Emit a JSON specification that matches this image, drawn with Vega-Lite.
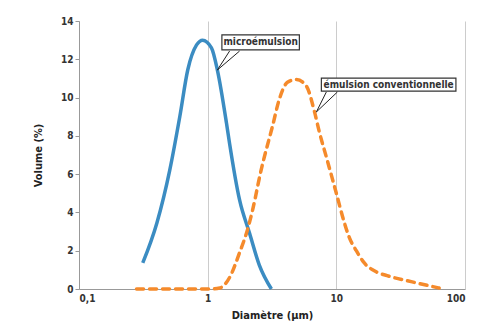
{
  "$schema": "https://vega.github.io/schema/vega-lite/v6.json",
  "width": 386,
  "height": 268,
  "autosize": {"type": "none"},
  "padding": {"left": 79, "top": 21, "right": 19, "bottom": 42},
  "background": "white",
  "config": {
    "view": {"stroke": null},
    "font": "DejaVu Sans Condensed",
    "axis": {"labelFont": "DejaVu Sans Condensed", "titleFont": "DejaVu Sans Condensed", "labelFontWeight": "bold", "titleFontWeight": "bold", "labelColor": "#333", "titleColor": "#222", "labelFontSize": 10, "titleFontSize": 11, "domainColor": "#999", "tickColor": "#999", "tickSize": 4, "labelOverlap": false}
  },
  "datasets": {
    "blue": [
      {"d": 0.313, "v": 1.36}, {"d": 0.403, "v": 3.45}, {"d": 0.507, "v": 6.2}, {"d": 0.607, "v": 9.0},
      {"d": 0.70, "v": 11.44}, {"d": 0.82, "v": 12.75}, {"d": 0.914, "v": 13.0}, {"d": 1.07, "v": 12.6},
      {"d": 1.19, "v": 11.44}, {"d": 1.40, "v": 8.67}, {"d": 1.48, "v": 7.6}, {"d": 1.77, "v": 4.65}, {"d": 2.12, "v": 2.9},
      {"d": 2.52, "v": 1.25}, {"d": 3.13, "v": 0}
    ],
    "orange": [
      {"d": 0.28, "v": 0}, {"d": 0.5, "v": 0}, {"d": 0.8, "v": 0}, {"d": 1.05, "v": 0},
      {"d": 1.24, "v": 0.05}, {"d": 1.48, "v": 0.6}, {"d": 1.77, "v": 1.9}, {"d": 2.04, "v": 3.1},
      {"d": 2.23, "v": 4.1}, {"d": 2.6, "v": 6.2}, {"d": 3.19, "v": 8.5}, {"d": 3.6, "v": 9.9},
      {"d": 4.17, "v": 10.8}, {"d": 4.9, "v": 10.95}, {"d": 5.85, "v": 10.6}, {"d": 6.77, "v": 9.25},
      {"d": 7.38, "v": 8.2}, {"d": 8.36, "v": 6.9}, {"d": 9.14, "v": 5.96}, {"d": 10.0, "v": 5.0},
      {"d": 11.5, "v": 3.5}, {"d": 12.6, "v": 2.7}, {"d": 14.3, "v": 2.0}, {"d": 16.5, "v": 1.36},
      {"d": 20.4, "v": 0.9}, {"d": 24.8, "v": 0.7}, {"d": 38.9, "v": 0.37}, {"d": 63, "v": 0.05}
    ],
    "callouts": [
      {"x1": 1.48, "y1": 12.43, "x2": 1.19, "y2": 11.44},
      {"x1": 1.77, "y1": 12.43, "x2": 1.19, "y2": 11.44},
      {"x1": 8.36, "y1": 10.29, "x2": 7.0, "y2": 9.25},
      {"x1": 10.19, "y1": 10.29, "x2": 7.0, "y2": 9.25}
    ],
    "boxes": [
      {"x1": 1.29, "x2": 5.16, "y1": 12.49, "y2": 13.27, "tx": 2.58, "ty": 12.88, "label": "microémulsion"},
      {"x1": 7.65, "x2": 85.0, "y1": 10.34, "y2": 11.02, "tx": 25.5, "ty": 10.68, "label": "émulsion conventionnelle"}
    ]
  },
  "layer": [
    {
      "data": {"name": "blue"},
      "mark": {"type": "line", "color": "#3b8cc2", "strokeWidth": 3.5, "interpolate": "monotone", "strokeCap": "butt"},
      "encoding": {
        "x": {"field": "d", "type": "quantitative", "scale": {"type": "log", "domain": [0.1, 100]},
          "axis": {"values": [0.1, 1, 10, 100], "grid": true, "gridColor": "#ccc", "labelExpr": "datum.value == 0.1 ? '0,1' : datum.label", "title": "Diamètre (µm)", "titlePadding": 6, "labelPadding": 4, "ticks": false, "labelOverlap": false}},
        "y": {"field": "v", "type": "quantitative", "scale": {"domain": [0, 14]},
          "axis": {"values": [0, 2, 4, 6, 8, 10, 12, 14], "tickCount": 8, "grid": false, "title": "Volume (%)", "titlePadding": 17, "labelOverlap": false}}
      }
    },
    {
      "data": {"name": "orange"},
      "mark": {"type": "line", "color": "#f58a2b", "strokeWidth": 3.5, "interpolate": "monotone", "strokeDash": [7, 6], "strokeCap": "round"},
      "encoding": {
        "x": {"field": "d", "type": "quantitative", "axis": {"values": [0.1, 1, 10, 100], "grid": true, "gridColor": "#ccc", "labelExpr": "datum.value == 0.1 ? '0,1' : datum.label", "title": "Diamètre (µm)", "titlePadding": 6, "labelPadding": 4, "ticks": false, "labelOverlap": false}},
        "y": {"field": "v", "type": "quantitative", "axis": {"values": [0, 2, 4, 6, 8, 10, 12, 14], "tickCount": 8, "grid": false, "title": "Volume (%)", "titlePadding": 17, "labelOverlap": false}}
      }
    },
    {
      "data": {"name": "callouts"},
      "mark": {"type": "rule", "color": "#222", "strokeWidth": 1},
      "encoding": {
        "x": {"field": "x1", "type": "quantitative", "axis": {"values": [0.1, 1, 10, 100], "grid": true, "gridColor": "#ccc", "labelExpr": "datum.value == 0.1 ? '0,1' : datum.label", "title": "Diamètre (µm)", "titlePadding": 6, "labelPadding": 4, "ticks": false, "labelOverlap": false}},
        "y": {"field": "y1", "type": "quantitative", "axis": {"values": [0, 2, 4, 6, 8, 10, 12, 14], "tickCount": 8, "grid": false, "title": "Volume (%)", "titlePadding": 17, "labelOverlap": false}},
        "x2": {"field": "x2"},
        "y2": {"field": "y2"}
      }
    },
    {
      "data": {"name": "boxes"},
      "mark": {"type": "rect", "fill": "white", "stroke": "#333", "strokeWidth": 1.2},
      "encoding": {
        "x": {"field": "x1", "type": "quantitative", "axis": {"values": [0.1, 1, 10, 100], "grid": true, "gridColor": "#ccc", "labelExpr": "datum.value == 0.1 ? '0,1' : datum.label", "title": "Diamètre (µm)", "titlePadding": 6, "labelPadding": 4, "ticks": false, "labelOverlap": false}},
        "x2": {"field": "x2"},
        "y": {"field": "y1", "type": "quantitative", "axis": {"values": [0, 2, 4, 6, 8, 10, 12, 14], "tickCount": 8, "grid": false, "title": "Volume (%)", "titlePadding": 17, "labelOverlap": false}},
        "y2": {"field": "y2"}
      }
    },
    {
      "data": {"name": "boxes"},
      "mark": {"type": "text", "font": "DejaVu Sans Condensed", "fontWeight": "bold", "fontSize": 10, "color": "#333", "align": "center", "baseline": "middle"},
      "encoding": {
        "x": {"field": "tx", "type": "quantitative", "axis": {"values": [0.1, 1, 10, 100], "grid": true, "gridColor": "#ccc", "labelExpr": "datum.value == 0.1 ? '0,1' : datum.label", "title": "Diamètre (µm)", "titlePadding": 6, "labelPadding": 4, "ticks": false, "labelOverlap": false}},
        "y": {"field": "ty", "type": "quantitative", "axis": {"values": [0, 2, 4, 6, 8, 10, 12, 14], "tickCount": 8, "grid": false, "title": "Volume (%)", "titlePadding": 17, "labelOverlap": false}},
        "text": {"field": "label"}
      }
    }
  ]
}
